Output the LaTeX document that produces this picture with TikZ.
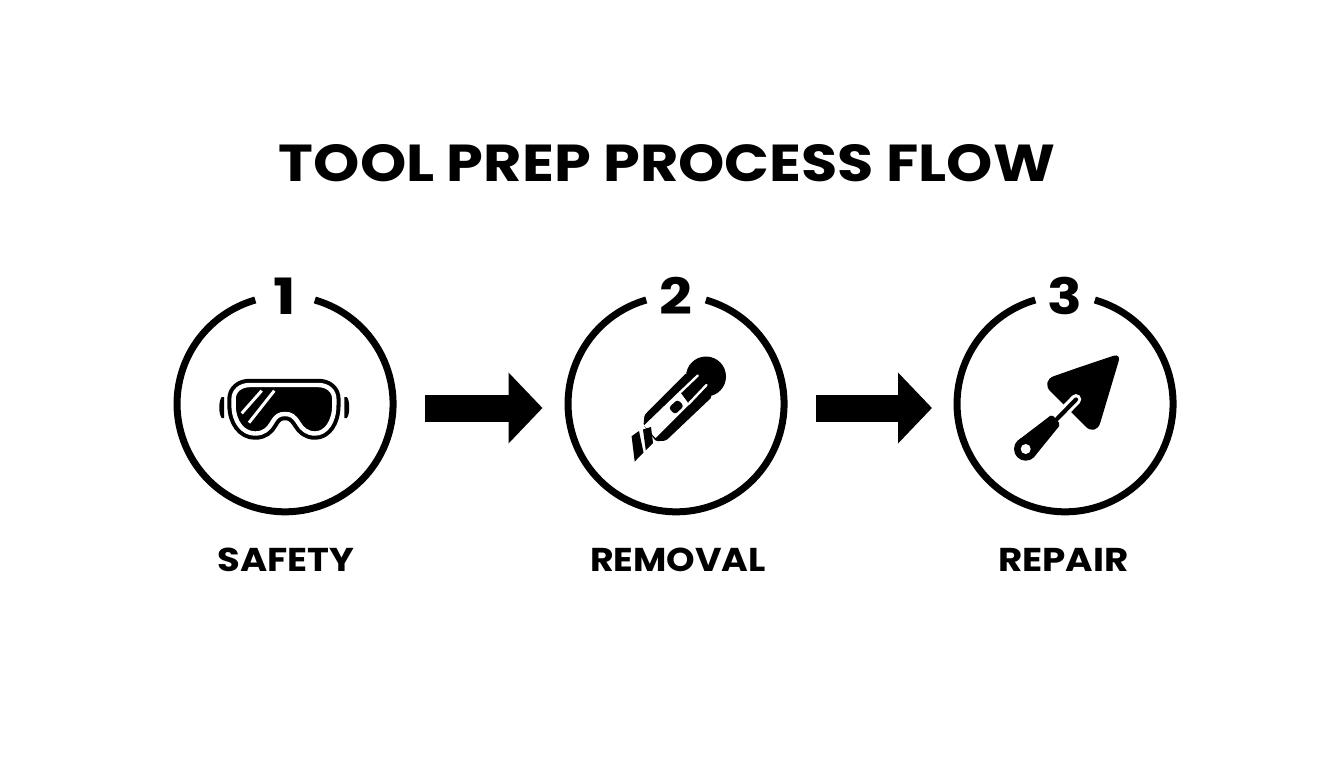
\documentclass[tikz,border=0pt]{standalone}
\usepackage{fontspec}
\setmainfont{Poppins}[BoldFont={Poppins Bold}]
\usetikzlibrary{arrows.meta}
\tikzset{
  x=1pt,y=-1pt,
  hub/.style={circle,minimum size=216pt,inner sep=0pt},
  ring/.style={line width=7pt,black},
  flow/.style={line width=27pt,black,-{Triangle[length=34pt,width=69pt]},shorten <=140pt,shorten >=133.5pt},
  heading/.style={font=\bfseries\fontsize{52}{52}\selectfont,inner sep=0pt,anchor=center},
  numeral/.style={font=\bfseries\fontsize{50}{50}\selectfont,inner sep=0pt,anchor=center},
  caption/.style={font=\bfseries\fontsize{33}{33}\selectfont,inner sep=0pt,anchor=center},
  gogglepath/.style={line join=round},
  slit/.style={white,line width=2.4pt,line cap=round},
}
\newcommand{\goggleshape}{(250,385) -- (318,385) .. controls (328,385) and (334.3,391) .. (334.3,399) -- (334.3,405) .. controls (334.3,422) and (326,433.5) .. (315,433.5) .. controls (307,433.5) and (302,429) .. (298.5,423) .. controls (294,416) and (291,414) .. (285,414) .. controls (279,414) and (276,416) .. (272,423) .. controls (268.5,429) and (264,433.5) .. (255,433.5) .. controls (243,433.5) and (233.6,422) .. (233.6,405) -- (233.6,399) .. controls (233.6,391) and (240,385) .. (250,385) -- cycle}
\begin{document}
\begin{tikzpicture}
\useasboundingbox (0,0) rectangle (1344,768);
\node[heading] (title) at (667,163) {\scalebox{1.133}[1]{TOOL PREP PROCESS FLOW}};
\node[hub] (c1) at (285,404) {};
\node[hub] (c2) at (676,404) {};
\node[hub] (c3) at (1065,404) {};
\foreach \c in {c1,c2,c3}{
  \draw[ring] (\c.74) arc[start angle=-74,end angle=254,radius=108];
}
\node[numeral] (n1) at (285,296) {\scalebox{1.2}[1]{1}};
\node[numeral] (n2) at (676,296) {\scalebox{1.15}[1]{2}};
\node[numeral] (n3) at (1065,296) {\scalebox{1.15}[1]{3}};
\coordinate (a1) at (285,408);
\coordinate (a2) at (676,408);
\coordinate (a3) at (1065.5,408);
\draw[flow] (a1) -- (a2);
\draw[flow] (a2) -- (a3);
\node[caption] (l1) at (286,560) {\scalebox{1.12}[1]{SAFETY}};
\node[caption] (l2) at (678,560) {\scalebox{1.1}[1]{REMOVAL}};
\node[caption] (l3) at (1063.5,560) {\scalebox{1.13}[1]{REPAIR}};
% goggles
\fill (221.8,397) -- (224,397) -- (224,418) -- (221.8,418) .. controls (220,416) and (219.3,412) .. (219.3,407.5) .. controls (219.3,403) and (220,399) .. (221.8,397) -- cycle;
\fill (344.4,397) -- (346.8,397) .. controls (348.6,399) and (349.2,403) .. (349.2,407.5) .. controls (349.2,412) and (348.6,416) .. (346.8,418) -- (344.4,418) -- cycle;
\path[fill=black,draw=black,line width=12.5pt,gogglepath] \goggleshape;
\draw[white,line width=4.4pt,gogglepath] \goggleshape;
\draw[white,line width=3pt] (241.7,413.3) -- (261.7,390.7);
\draw[white,line width=3pt] (249,422.7) -- (274.3,390.7);
% knife
\fill (706,376.5) circle[radius=20];
\fill[rounded corners=1.5pt] (686.3,373) -- (644.5,415) -- (643.5,425) -- (656,441.3) -- (666,440.6) -- (712,397) -- (700,380) -- cycle;
\fill[white] (679.5,391.3) -- (644,425.5) -- (655.5,438) -- (689.2,404.5) -- cycle;
\draw[slit] (697.8,375.5) -- (680,392.5);
\draw[slit] (706.5,385) -- (688.3,404.2);
\fill[rounded corners=3pt] (677.5,399.5) -- (684,406) -- (675,414.5) -- (668.5,408) -- cycle;
\fill (631.6,436.2) -- (639,431) -- (643.5,452.5) -- (634.7,461.6) -- cycle;
\fill (643,429.5) -- (651,427) -- (653,443) -- (645.8,450.4) -- cycle;
% trowel
\fill (1080,367) [rounded corners=8pt] -- (1121,353.3) [rounded corners=15pt] -- (1096,437) -- (1040,381) [sharp corners] -- cycle;
\draw[white,line width=10.5pt,line cap=round] (1076,399.3) -- (1058.3,417.7);
\draw[black,line width=4.2pt,line cap=round] (1076,399.5) -- (1056,420);
\fill[rounded corners=2pt] (1052,414.5) -- (1060.5,424.5) -- (1033.9,457.2) -- (1017.5,440.8) -- cycle;
\fill (1025.7,449) circle[radius=11.7];
\fill[white] (1025.7,449) circle[radius=5];
\end{tikzpicture}
\end{document}
